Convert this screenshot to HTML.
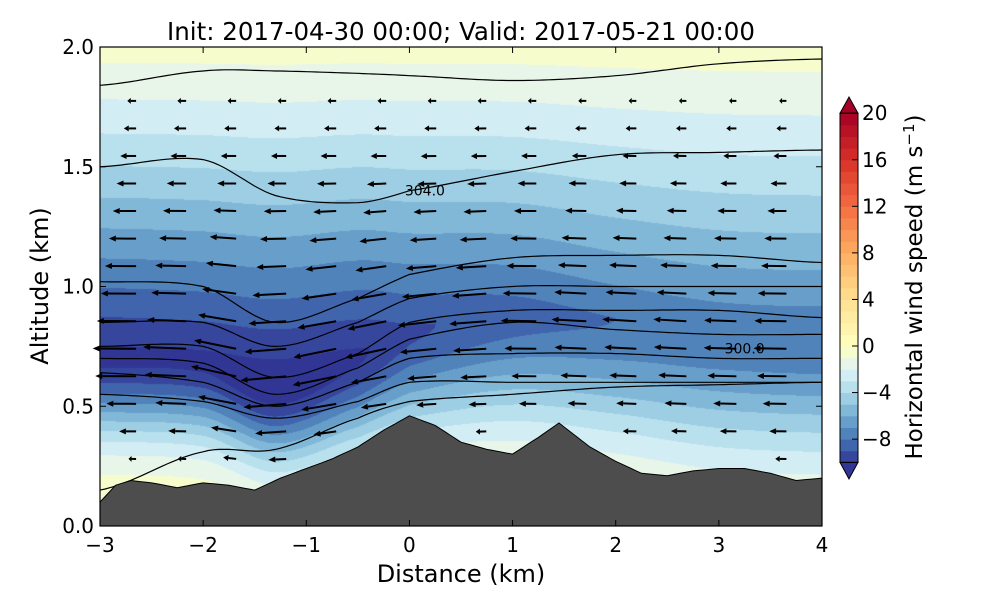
<!DOCTYPE html>
<html><head><meta charset="utf-8"><style>
body{margin:0;background:#fff;font-family:"DejaVu Sans","Liberation Sans",sans-serif}
#wrap{position:relative;width:1000px;height:600px}
canvas,svg{position:absolute;left:0;top:0}
svg text{font-family:"DejaVu Sans","Liberation Sans",sans-serif}
</style></head><body>
<div id="wrap">
<canvas id="cv" width="1000" height="600"></canvas>
<svg id="sv" width="1000" height="600" xmlns="http://www.w3.org/2000/svg"></svg>
</div>
<script>
// ---- data ----
const terrainX = [-3,-2.85,-2.7,-2.5,-2.25,-2,-1.75,-1.5,-1.25,-1,-0.75,-0.5,-0.25,0,0.25,0.5,0.75,1,1.25,1.45,1.75,2,2.25,2.5,2.75,3,3.25,3.5,3.75,4];
const terrainZ = [0.1,0.17,0.19,0.18,0.16,0.18,0.17,0.15,0.2,0.24,0.28,0.33,0.4,0.46,0.42,0.35,0.32,0.3,0.37,0.43,0.33,0.27,0.22,0.21,0.23,0.24,0.24,0.22,0.19,0.2];
const jetX = [-3,-2,-1.3,-0.5,0,1,2,3,4];
const jetCore = [0.72,0.7,0.6,0.72,0.82,0.9,0.87,0.82,0.8];
const jetAmp = [10.3,10.3,10.8,10.2,9.2,8.5,8.0,7.8,7.8];
const belowWidth = [0.33,0.33,0.33,0.36,0.4,0.45,0.48,0.5,0.5];
const thetaLines = [
 [1.84,1.9,1.9,1.89,1.88,1.86,1.88,1.93,1.95],
 [1.5,1.53,1.38,1.35,1.4,1.48,1.55,1.56,1.57],
 [1.02,1.0,0.85,0.95,1.05,1.12,1.13,1.13,1.1],
 [0.85,0.85,0.75,0.85,0.95,1.0,1.0,1.0,1.0],
 [0.75,0.75,0.62,0.72,0.85,0.9,0.9,0.9,0.87],
 [0.7,0.68,0.55,0.66,0.78,0.85,0.82,0.8,0.8],
 [0.64,0.6,0.5,0.6,0.7,0.72,0.72,0.7,0.7],
 [0.55,0.52,0.45,0.52,0.6,0.6,0.6,0.6,0.6],
 [0.15,0.31,0.32,0.45,0.52,0.55,0.58,0.59,0.6]
];
const xTicks = [-3,-2,-1,0,1,2,3,4];
const yTicks = [0.0,0.5,1.0,1.5,2.0];
const cbTicks = [20,16,12,8,4,0,-4,-8];
const cmapV = [-10,-8,-6,-4,-2,0,4,8,12,16,20];
const cmapC = ["#313695","#4575b4","#74add1","#abd9e9","#e0f3f8","#ffffbf","#fee090","#fdae61","#f46d43","#d73027","#a50026"];

// ---- axes ----
const X0=100,X1=822,Y0=526,Y1=47;
const xs=v=>X0+(v+3)/7*(X1-X0);
const ys=v=>Y0-v/2*(Y0-Y1);
const cy=v=>346-v*11.64;
function interp(ax,ay,x){if(x<=ax[0])return ay[0];for(let i=1;i<ax.length;i++){if(x<=ax[i]){const t=(x-ax[i-1])/(ax[i]-ax[i-1]);return ay[i-1]+t*(ay[i]-ay[i-1]);}}return ay[ay.length-1];}
function sinterp(ax,ay,x){
 const n=ax.length;if(x<=ax[0])return ay[0];if(x>=ax[n-1])return ay[n-1];
 let i=1;while(x>ax[i])i++;const t=(x-ax[i-1])/(ax[i]-ax[i-1]);
 const p0=ay[Math.max(0,i-2)],p1=ay[i-1],p2=ay[i],p3=ay[Math.min(n-1,i+1)];
 const m1=(p2-p0)/2,m2=(p3-p1)/2,t2=t*t,t3=t2*t;
 return (2*t3-3*t2+1)*p1+(t3-2*t2+t)*m1+(-2*t3+3*t2)*p2+(t3-t2)*m2;}
function hex(c){return [parseInt(c.slice(1,3),16),parseInt(c.slice(3,5),16),parseInt(c.slice(5,7),16)];}
function cmap(v){v=Math.max(-10,Math.min(20,v));for(let i=1;i<cmapV.length;i++){if(v<=cmapV[i]){const t=(v-cmapV[i-1])/(cmapV[i]-cmapV[i-1]);const a=hex(cmapC[i-1]),b=hex(cmapC[i]);return a.map((q,k)=>Math.round(q+t*(b[k]-q)));}}return hex(cmapC[cmapC.length-1]);}
function speed(x,z){const zc=sinterp(jetX,jetCore,x),A=sinterp(jetX,jetAmp,x);
 if(z>zc){const f=Math.max(0,1-(z-zc)/(2.12-zc));return -A*Math.pow(f,1.15);}
 const w=sinterp(jetX,belowWidth,x);
 return -A*Math.exp(-Math.pow((z-zc)/w,2));}

// ---- field ----
const ctx=document.getElementById('cv').getContext('2d');
const img=ctx.createImageData(X1-X0,Y0-Y1);
for(let py=0;py<Y0-Y1;py++){const z=(Y0-(Y1+py))/(Y0-Y1)*2;for(let px=0;px<X1-X0;px++){const x=-3+px/(X1-X0)*7;let s=speed(x,z);s=Math.floor(s)+0.5;const c=cmap(s);const o=(py*(X1-X0)+px)*4;img.data[o]=c[0];img.data[o+1]=c[1];img.data[o+2]=c[2];img.data[o+3]=255;}}
ctx.putImageData(img,X0,Y1);

// ---- svg ----
const NS="http://www.w3.org/2000/svg",sv=document.getElementById('sv');
function el(t,a,p){const e=document.createElementNS(NS,t);for(const k in a)e.setAttribute(k,a[k]);(p||sv).appendChild(e);return e;}

// theta contours
thetaLines.forEach((ln,i)=>{let d='';for(let k=0;k<=140;k++){const x=-3+k*0.05;d+=(k?'L':'M')+xs(x).toFixed(1)+','+ys(sinterp(jetX,ln,x)).toFixed(1);}
const p=el('path',{d:d,fill:'none',stroke:'#000','stroke-width':1.2});

});
const l1=el('text',{x:xs(0.15),y:ys(1.38),'font-size':14,'text-anchor':'middle'});l1.textContent='304.0';


const l2=el('text',{x:xs(3.25),y:ys(0.72),'font-size':14,'text-anchor':'middle'});l2.textContent='300.0';



// arrows
const ag=el('g',{});


for(let i=0;i<14;i++){const x=-2.65+i*0.485;const tz=interp(terrainX,terrainZ,x);
 for(let z=0.28;z<1.8;z+=0.115){if(z<tz+0.06)continue;const u=speed(x,z);
  const sl=(sinterp(jetX,jetCore,x+0.05)-sinterp(jetX,jetCore,x-0.05))/0.1*Math.max(0,1-Math.abs(z-sinterp(jetX,jetCore,x))/0.8);
  let dx=u*4.3,dy=-u*4.3*sl*2.3*0.5;const L=Math.hypot(dx,dy);if(L<2)continue;
  const x0=xs(x),y0=ys(z),x1=x0+dx,y1=y0+dy;const ux=dx/L,uy=dy/L,h=Math.min(7,L*0.4);
  const bx=x1-ux*h,by=y1-uy*h;
  el('line',{x1:x0,y1:y0,x2:bx,y2:by,stroke:'#000','stroke-width':2},ag);
  el('polygon',{points:`${x1},${y1} ${bx-uy*3},${by+ux*3} ${bx+uy*3},${by-ux*3}`,fill:'#000'},ag);}}

// terrain
let td='M'+xs(-3)+','+Y0;for(let k=0;k<=140;k++){const x=-3+k*0.05;td+='L'+xs(x).toFixed(1)+','+ys(interp(terrainX,terrainZ,x)).toFixed(1);}td+='L'+xs(4)+','+Y0+'Z';
const tp=el('path',{d:td,fill:'#4d4d4d',stroke:'#000','stroke-width':1});



// frame + ticks
const fr=el('rect',{x:X0,y:Y1,width:X1-X0,height:Y0-Y1,fill:'none',stroke:'#000','stroke-width':1.2});


xTicks.forEach(v=>{const X=xs(v);el('line',{x1:X,y1:Y0,x2:X,y2:Y0-6,stroke:'#000'});el('line',{x1:X,y1:Y1,x2:X,y2:Y1+6,stroke:'#000'});
 const t=el('text',{x:X,y:Y0+26,'font-size':20,'text-anchor':'middle'});t.textContent=v<0?'\u2212'+(-v):v;
 
 });
yTicks.forEach(v=>{const Y=ys(v);el('line',{x1:X0,y1:Y,x2:X0+6,y2:Y,stroke:'#000'});el('line',{x1:X1,y1:Y,x2:X1-6,y2:Y,stroke:'#000'});
 const t=el('text',{x:X0-6,y:Y+7,'font-size':20,'text-anchor':'end'});t.textContent=v.toFixed(1);
 
 });
const tt=el('text',{x:461,y:40,'font-size':24.5,'text-anchor':'middle'});tt.textContent='Init: 2017-04-30 00:00; Valid: 2017-05-21 00:00';


const xl=el('text',{x:461,y:582,'font-size':24,'text-anchor':'middle'});xl.textContent='Distance (km)';


const yl=el('text',{x:48,y:286,'font-size':24,'text-anchor':'middle',transform:'rotate(-90 48 286)'});yl.textContent='Altitude (km)';



// colorbar
const cb=el('g',{});


for(let v=-10;v<20;v++){const c=cmap(v+0.5);el('rect',{x:840,y:cy(v+1),width:18,height:cy(v)-cy(v+1)+0.5,fill:`rgb(${c})`},cb);}
let c=cmap(20);el('polygon',{points:`840,${cy(20)} 858,${cy(20)} 849,97`,fill:`rgb(${c})`,stroke:'#000'},cb);
c=cmap(-10);el('polygon',{points:`840,${cy(-10)} 858,${cy(-10)} 849,479`,fill:`rgb(${c})`,stroke:'#000'},cb);
el('rect',{x:840,y:cy(20),width:18,height:cy(-10)-cy(20),fill:'none',stroke:'#000'},cb);
cbTicks.forEach(v=>{el('line',{x1:852,y1:cy(v),x2:858,y2:cy(v),stroke:'#000'},cb);
 const t=el('text',{x:862,y:cy(v)+7,'font-size':20},cb);t.textContent=v<0?'\u2212'+(-v):v;
 
 });
const cl=el('text',{x:922,y:287,'font-size':23,'text-anchor':'middle',transform:'rotate(-90 922 287)'});
cl.innerHTML='Horizontal wind speed (m s<tspan dy="-8" font-size="15">\u22121</tspan><tspan dy="8">)</tspan>';


</script>
</body></html>
